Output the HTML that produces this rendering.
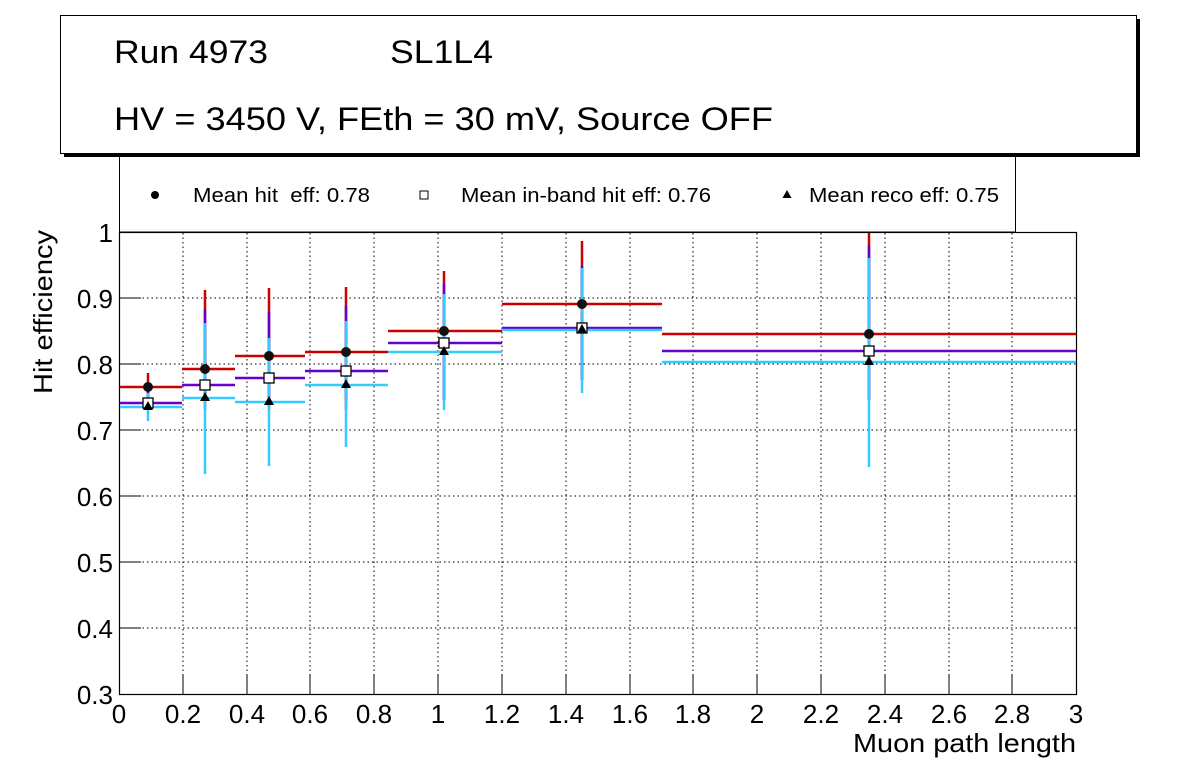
<!DOCTYPE html>
<html><head><meta charset="utf-8"><style>
html,body{margin:0;padding:0;background:#fff;}
svg{display:block;font-family:"Liberation Sans",Arial,sans-serif;}
</style></head><body>
<svg width="1196" height="772" viewBox="0 0 1196 772" xmlns="http://www.w3.org/2000/svg">
<rect width="1196" height="772" fill="#fff"/>
<!-- legend box -->
<rect x="119.5" y="140" width="896" height="92" fill="#fff" stroke="#000" stroke-width="1"/>
<!-- title box with shadow -->
<rect x="64" y="19" width="1076" height="138" fill="#000"/>
<rect x="60.5" y="15.5" width="1076" height="138" fill="#fff" stroke="#000" stroke-width="1"/>
<text x="114" y="63" font-size="32" textLength="154" lengthAdjust="spacingAndGlyphs">Run 4973</text>
<text x="390" y="63" font-size="32" textLength="103" lengthAdjust="spacingAndGlyphs">SL1L4</text>
<text x="114" y="130" font-size="32" textLength="659" lengthAdjust="spacingAndGlyphs">HV = 3450 V, FEth = 30 mV, Source OFF</text>
<!-- legend -->
<circle cx="155" cy="195" r="4" fill="#000"/>
<text x="193" y="202" font-size="20" textLength="177" lengthAdjust="spacingAndGlyphs">Mean hit&#160; eff: 0.78</text>
<rect x="420" y="191" width="8" height="8" fill="#fff" stroke="#000" stroke-width="1"/>
<text x="461" y="202" font-size="20" textLength="250" lengthAdjust="spacingAndGlyphs">Mean in-band hit eff: 0.76</text>
<polygon points="787,190 791.5,198 782.5,198" fill="#000"/>
<text x="809" y="202" font-size="20" textLength="190" lengthAdjust="spacingAndGlyphs">Mean reco eff: 0.75</text>
<!-- frame -->
<rect x="119.5" y="232.5" width="957" height="462" fill="#fff" stroke="#000" stroke-width="1.2"/>
<!-- grid -->
<g stroke="#000" stroke-width="1" stroke-dasharray="1.5,3">
<line x1="183" y1="233" x2="183" y2="694"/><line x1="247" y1="233" x2="247" y2="694"/>
<line x1="310" y1="233" x2="310" y2="694"/><line x1="374" y1="233" x2="374" y2="694"/>
<line x1="438" y1="233" x2="438" y2="694"/><line x1="502" y1="233" x2="502" y2="694"/>
<line x1="566" y1="233" x2="566" y2="694"/><line x1="630" y1="233" x2="630" y2="694"/>
<line x1="693" y1="233" x2="693" y2="694"/><line x1="757" y1="233" x2="757" y2="694"/>
<line x1="821" y1="233" x2="821" y2="694"/><line x1="885" y1="233" x2="885" y2="694"/>
<line x1="949" y1="233" x2="949" y2="694"/><line x1="1012" y1="233" x2="1012" y2="694"/>
<line x1="120" y1="628" x2="1076" y2="628"/><line x1="120" y1="562" x2="1076" y2="562"/>
<line x1="120" y1="496" x2="1076" y2="496"/><line x1="120" y1="430" x2="1076" y2="430"/>
<line x1="120" y1="364" x2="1076" y2="364"/><line x1="120" y1="298" x2="1076" y2="298"/>
</g>
<!-- ticks -->
<g stroke="#000" stroke-width="1">
<line x1="119" y1="628" x2="141" y2="628"/><line x1="119" y1="562" x2="141" y2="562"/>
<line x1="119" y1="496" x2="141" y2="496"/><line x1="119" y1="430" x2="141" y2="430"/>
<line x1="119" y1="364" x2="141" y2="364"/><line x1="119" y1="298" x2="141" y2="298"/>
<line x1="119" y1="232" x2="141" y2="232"/>
<line x1="183" y1="694" x2="183" y2="675"/><line x1="247" y1="694" x2="247" y2="675"/>
<line x1="310" y1="694" x2="310" y2="675"/><line x1="374" y1="694" x2="374" y2="675"/>
<line x1="438" y1="694" x2="438" y2="675"/><line x1="502" y1="694" x2="502" y2="675"/>
<line x1="566" y1="694" x2="566" y2="675"/><line x1="630" y1="694" x2="630" y2="675"/>
<line x1="693" y1="694" x2="693" y2="675"/><line x1="757" y1="694" x2="757" y2="675"/>
<line x1="821" y1="694" x2="821" y2="675"/><line x1="885" y1="694" x2="885" y2="675"/>
<line x1="949" y1="694" x2="949" y2="675"/><line x1="1012" y1="694" x2="1012" y2="675"/>
</g>
<!-- y labels -->
<g font-size="26" text-anchor="end">
<text x="113" y="704">0.3</text><text x="113" y="638">0.4</text><text x="113" y="572">0.5</text>
<text x="113" y="506">0.6</text><text x="113" y="440">0.7</text><text x="113" y="374">0.8</text>
<text x="113" y="308">0.9</text><text x="113" y="242">1</text>
</g>
<!-- x labels -->
<g font-size="26" text-anchor="middle">
<text x="119" y="723">0</text><text x="183" y="723">0.2</text><text x="247" y="723">0.4</text>
<text x="310" y="723">0.6</text><text x="374" y="723">0.8</text><text x="438" y="723">1</text>
<text x="502" y="723">1.2</text><text x="566" y="723">1.4</text><text x="630" y="723">1.6</text>
<text x="693" y="723">1.8</text><text x="757" y="723">2</text><text x="821" y="723">2.2</text>
<text x="885" y="723">2.4</text><text x="949" y="723">2.6</text><text x="1012" y="723">2.8</text>
<text x="1076" y="723">3</text>
</g>
<text x="853" y="752" font-size="26" textLength="223" lengthAdjust="spacingAndGlyphs">Muon path length</text>
<text transform="translate(52,394) rotate(-90)" font-size="26" textLength="164" lengthAdjust="spacingAndGlyphs">Hit efficiency</text>
<!-- red series -->
<g stroke="#cc0000" stroke-width="2.5">
<line x1="120" y1="387" x2="182" y2="387"/><line x1="182" y1="369" x2="235" y2="369"/>
<line x1="235" y1="356" x2="305" y2="356"/><line x1="305" y1="352" x2="388" y2="352"/>
<line x1="388" y1="331" x2="502" y2="331"/><line x1="502" y1="304" x2="662" y2="304"/>
<line x1="662" y1="334" x2="1076" y2="334"/>
<line x1="148" y1="373" x2="148" y2="400"/><line x1="205" y1="290" x2="205" y2="400"/>
<line x1="269" y1="288" x2="269" y2="400"/><line x1="346" y1="287" x2="346" y2="400"/>
<line x1="444" y1="271" x2="444" y2="400"/><line x1="582" y1="241" x2="582" y2="380"/>
<line x1="869" y1="233" x2="869" y2="400"/>
</g>
<!-- purple series -->
<g stroke="#6600cc" stroke-width="2.5">
<line x1="120" y1="403" x2="182" y2="403"/><line x1="182" y1="385" x2="235" y2="385"/>
<line x1="235" y1="378" x2="305" y2="378"/><line x1="305" y1="371" x2="388" y2="371"/>
<line x1="388" y1="343" x2="502" y2="343"/><line x1="502" y1="328" x2="662" y2="328"/>
<line x1="662" y1="351" x2="1076" y2="351"/>
<line x1="148" y1="388" x2="148" y2="410"/><line x1="205" y1="309" x2="205" y2="410"/>
<line x1="269" y1="312" x2="269" y2="410"/><line x1="346" y1="306" x2="346" y2="410"/>
<line x1="444" y1="284" x2="444" y2="400"/><line x1="582" y1="266" x2="582" y2="380"/>
<line x1="869" y1="245" x2="869" y2="400"/>
</g>
<!-- cyan series -->
<g stroke="#33ccff" stroke-width="2.5">
<line x1="120" y1="407" x2="182" y2="407"/><line x1="182" y1="398" x2="235" y2="398"/>
<line x1="235" y1="402" x2="305" y2="402"/><line x1="305" y1="385" x2="388" y2="385"/>
<line x1="388" y1="352" x2="502" y2="352"/><line x1="502" y1="330" x2="662" y2="330"/>
<line x1="662" y1="362" x2="1076" y2="362"/>
<line x1="148" y1="393" x2="148" y2="421"/><line x1="205" y1="323" x2="205" y2="474"/>
<line x1="269" y1="338" x2="269" y2="466"/><line x1="346" y1="321" x2="346" y2="447"/>
<line x1="444" y1="294" x2="444" y2="410"/><line x1="582" y1="268" x2="582" y2="393"/>
<line x1="869" y1="258" x2="869" y2="467"/>
</g>
<!-- markers -->
<g fill="#111">
<circle cx="148" cy="387" r="5"/><circle cx="205" cy="369" r="5"/><circle cx="269" cy="356" r="5"/>
<circle cx="346" cy="352" r="5"/><circle cx="444" cy="331" r="5"/><circle cx="582" cy="304" r="5"/>
<circle cx="869" cy="334" r="5"/>
</g>
<g fill="#fff" stroke="#000" stroke-width="1.3">
<rect x="143" y="398" width="10" height="10"/><rect x="200" y="380" width="10" height="10"/>
<rect x="264" y="373" width="10" height="10"/><rect x="341" y="366" width="10" height="10"/>
<rect x="439" y="338" width="10" height="10"/><rect x="577" y="323" width="10" height="10"/>
<rect x="864" y="346" width="10" height="10"/>
</g>
<g fill="#000">
<polygon points="148,401 153,410 143,410"/><polygon points="205,392 210,401 200,401"/>
<polygon points="269,396 274,405 264,405"/><polygon points="346,379 351,388 341,388"/>
<polygon points="444,346 449,355 439,355"/><polygon points="582,324 587,333 577,333"/>
<polygon points="869,356 874,365 864,365"/>
</g>
</svg>
</body></html>
